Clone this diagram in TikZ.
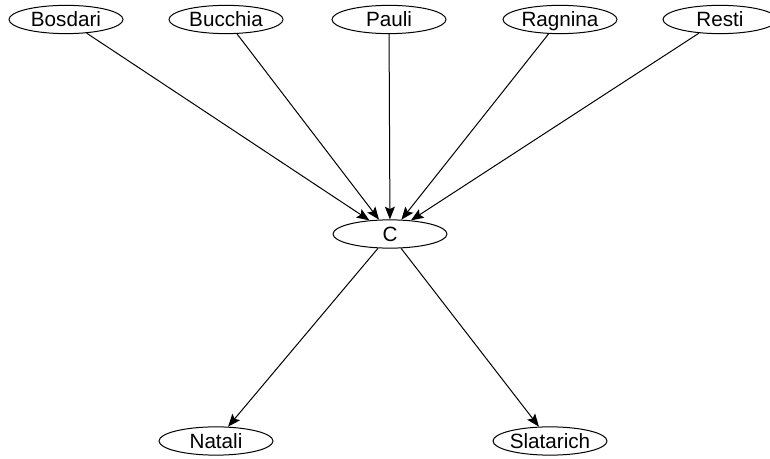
\documentclass[tikz,border=0pt]{standalone}
\usepackage{fontspec}
\setmainfont{Liberation Sans}
\usetikzlibrary{shapes.geometric,arrows.meta}
\begin{document}
\begin{tikzpicture}[x=0.75pt,y=-0.75pt,
  person/.style={ellipse,draw,line width=0.75pt,minimum width=85.5pt,minimum height=19pt,inner sep=0pt,text height=13pt,text depth=2pt,font=\fontsize{15.5pt}{17pt}\selectfont},
  link/.style={draw,line width=0.75pt,-{Stealth[length=9.5pt,width=7.5pt,inset=1.8pt]}}]
\useasboundingbox (0,0) rectangle (770,459);
\node[person] (bosdari) at (66,19.5) {Bosdari};
\node[person] (bucchia) at (226,19.5) {Bucchia};
\node[person] (pauli) at (389,19.5) {Pauli};
\node[person] (ragnina) at (560,19.5) {Ragnina};
\node[person] (resti) at (720,19.5) {Resti};
\node[person] (c) at (390,234) {C};
\node[person] (natali) at (216,441) {Natali};
\node[person] (slatarich) at (550,441) {Slatarich};
\draw[link] (bosdari) -- (c);
\draw[link] (bucchia) -- (c);
\draw[link] (pauli) -- (c);
\draw[link] (ragnina) -- (c);
\draw[link] (resti) -- (c);
\draw[link] (c) -- (natali);
\draw[link] (c) -- (slatarich);
\end{tikzpicture}
\end{document}
